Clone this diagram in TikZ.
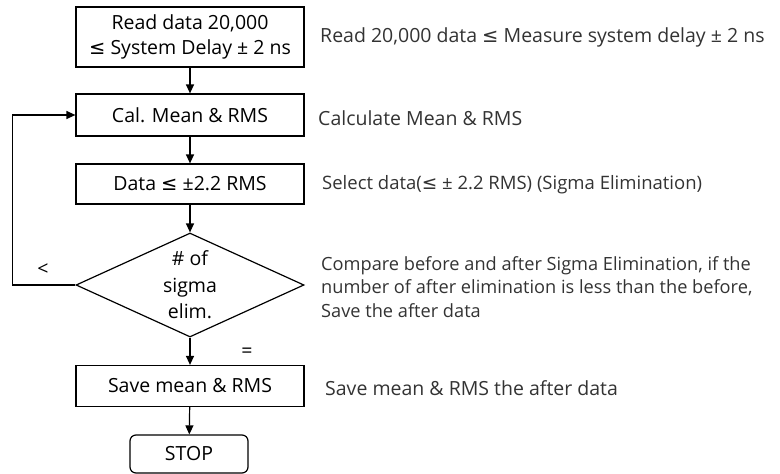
\documentclass[tikz,border=0pt]{standalone}
\usepackage{fontspec}
\setmainfont{Open Sans}
\newfontfamily\symf{DejaVu Sans}
\newcommand{\lesym}{{\symf ≤}}
\usetikzlibrary{arrows.meta,shapes.geometric}
\tikzset{
	stepbox/.style={draw, line width=1.2pt, minimum width=228pt, inner sep=0pt, align=center},
	arr/.style={line width=1.2pt, -{Triangle[length=9pt,width=8pt]}},
	note/.style={anchor=west, inner sep=0pt, align=left, text=black!80}
}
\begin{document}
\begin{tikzpicture}[x=1pt, y=-1pt, font=\fontsize{19.5}{24.5}\selectfont]
	\useasboundingbox (0,0) rectangle (780,474);

	\node[stepbox, minimum height=60pt] (read) at (190,37) {Read data 20,000\\\lesym{} System Delay ± 2 ns};
	\node[stepbox, minimum height=42pt] (calc) at (190,115) {Cal. Mean \& RMS};
	\node[stepbox, minimum height=40pt] (sel) at (190,184) {Data \lesym{} ±2.2 RMS};
	\node[draw, diamond, line width=1.2pt, inner sep=0pt, aspect=2.2, minimum width=228pt, minimum height=104pt] (dec) at (190,285) {};
	\node[align=center, inner sep=0pt, font=\fontsize{19.5}{26.5}\selectfont] (dectxt) at (dec) {\# of\\sigma\\elim.};
	\node[stepbox, minimum height=41pt] (save) at (190,386) {Save mean \& RMS};
	\node[draw, line width=1.2pt, rounded corners=6pt, minimum width=118pt, minimum height=38pt, inner sep=0pt] (stop) at (189,454) {STOP};

	\foreach \i / \j in {
	read/calc,
	calc/sel,
	sel/dec,
	dec/save,
	save/stop}
	{
		\draw[arr] (\i) -- (\j);
	};
	\draw[arr] (dec.west) -- ++(-63,0) |- (calc.west);

	\node (lt) at (43,270) {<};
	\node (eq) at (247,353) {=};

	\node[note] (n1) at (320,37) {Read 20,000 data \lesym{} Measure system delay ± 2 ns};
	\node[note] (n2) at (318,118) {Calculate Mean \& RMS};
	\node[note, font=\fontsize{18.5}{24}\selectfont] (n3) at (322,185) {Select data(\lesym{} ± 2.2 RMS) (Sigma Elimination)};
	\node[note, font=\fontsize{18.2}{23.5}\selectfont] (n4) at (321,287) {Compare before and after Sigma Elimination, if the\\number of after elimination is less than the before,\\Save the after data};
	\node[note] (n5) at (325,388) {Save mean \& RMS the after data};
\end{tikzpicture}
\end{document}
